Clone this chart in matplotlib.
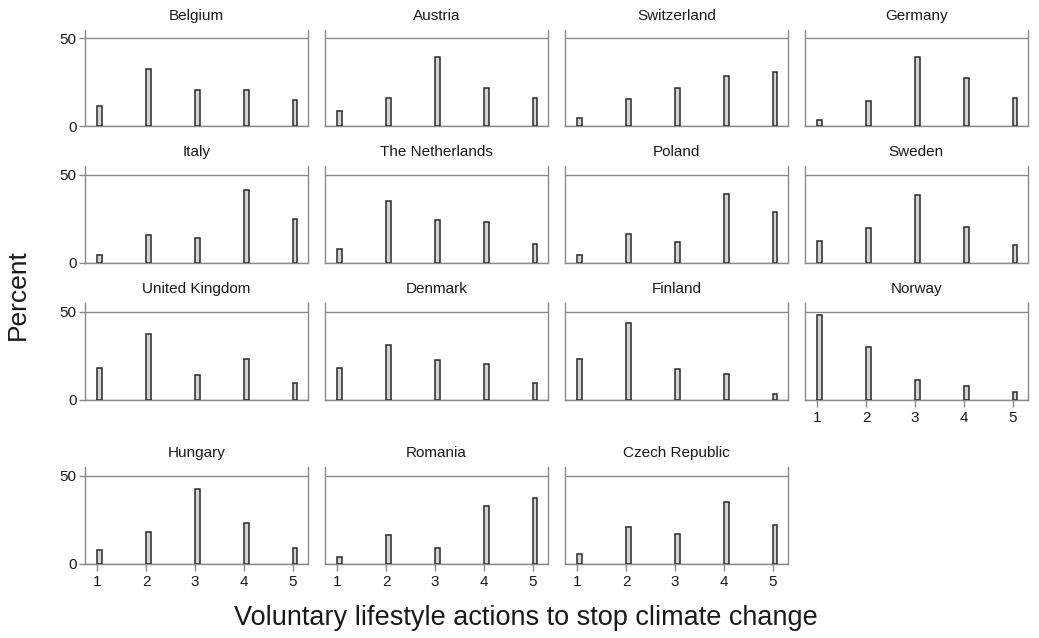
import numpy as np
import matplotlib
matplotlib.use("Agg")
import matplotlib.pyplot as plt

plt.rcParams['font.family'] = ['Liberation Sans', 'DejaVu Sans']

actions = [1, 2, 3, 4, 5]

countries = ["Belgium", "Austria", "Switzerland", "Germany",
             "Italy", "The Netherlands", "Poland", "Sweden",
             "United Kingdom", "Denmark", "Finland", "Norway",
             "Hungary", "Romania", "Czech Republic"]

belgium = [11.8, 32.7, 20.5, 20.9, 14.8]
austria = [8.7, 15.8, 39.2, 21.7, 15.8]
switzerland = [4.9, 15.4, 21.5, 28.3, 31.0]
germany = [3.8, 14.3, 39.4, 27.6, 15.8]
italy = [4.2, 16.0, 14.3, 41.6, 24.7]
netherlands = [7.8, 35.0, 24.3, 23.0, 10.8]
poland = [4.2, 16.3, 12.0, 39.2, 28.7]
sweden = [12.4, 19.8, 38.6, 20.2, 10.1]
uk = [17.7, 37.2, 13.7, 22.9, 9.6]
denmark = [18.0, 31.0, 22.4, 20.1, 9.6]
finland = [22.9, 43.4, 17.3, 14.7, 3.0]
norway = [48.3, 29.7, 11.1, 7.9, 4.1]
hungary = [7.8, 17.9, 42.6, 23.2, 8.7]
romania = [4.0, 16.5, 9.1, 32.5, 37.5]
czech = [5.5, 20.9, 16.7, 35.0, 21.9]

values = [belgium, austria, switzerland, germany,
          italy, netherlands, poland, sweden,
          uk, denmark, finland, norway,
          hungary, romania, czech]

W, H = 1039, 638
fig = plt.figure(figsize=(W / 100, H / 100), dpi=100)

col_left = [85, 325, 565, 805]
row_top = [29.5, 166, 302.8, 466.8]
ax_w, ax_h = 222.7, 96.8
gray = "#8a8a8a"

# panels that carry x tick labels
x_labelled = {"Norway", "Hungary", "Romania", "Czech Republic"}

for i, (name, vals) in enumerate(zip(countries, values)):
    r, c = divmod(i, 4)
    ax = fig.add_axes([col_left[c] / W, 1 - (row_top[r] + ax_h) / H,
                       ax_w / W, ax_h / H])
    ax.bar(actions, vals, width=0.1, align='edge', color="#d4d4d4",
           edgecolor="#2a2a2a", linewidth=1.1, zorder=3)
    ax.set_xlim(0.75, 5.31)
    ax.set_ylim(0, 55)
    ax.set_yticks([0, 50])
    ax.yaxis.grid(True, color=gray, linewidth=1)
    ax.set_axisbelow(True)
    ax.spines['top'].set_visible(False)
    for s in ['left', 'right', 'bottom']:
        ax.spines[s].set_color(gray)
        ax.spines[s].set_linewidth(1)
    ax.set_title(name, fontsize=11, pad=7, color="#1a1a1a")
    ax.tick_params(axis='both', colors=gray, labelcolor="#1a1a1a",
                   labelsize=11, width=1, length=4)
    if c == 0:
        ax.tick_params(axis='y', left=True, labelleft=True, pad=2)
    else:
        ax.tick_params(axis='y', left=False, labelleft=False)
    ax.set_xticks(actions)
    if name in x_labelled:
        ax.tick_params(axis='x', bottom=True, labelbottom=True, length=5, pad=3)
    else:
        ax.tick_params(axis='x', bottom=False, labelbottom=False)

fig.text(18 / W, 1 - 295 / H, "Percent", rotation=90, fontsize=19,
         ha='center', va='center', color="#1a1a1a")
fig.text(526 / W, 1 - 618 / H, "Voluntary lifestyle actions to stop climate change",
         fontsize=19.5, ha='center', va='center', color="#1a1a1a")

fig.savefig("out.png", dpi=100)
